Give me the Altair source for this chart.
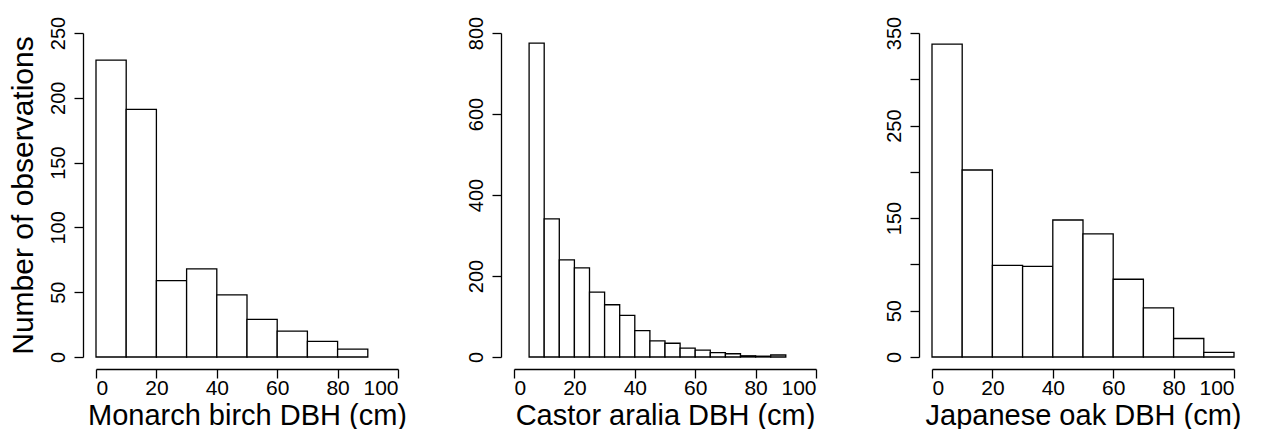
import altair as alt
import pandas as pd

# Monarch birch: 10 cm bins from 0 to 90
birch_start = [0, 10, 20, 30, 40, 50, 60, 70, 80]
birch_count = [229, 191, 59, 68, 48, 29, 20, 12, 6]

# Castor aralia: 5 cm bins from 5 to 90
aralia_start = [5, 10, 15, 20, 25, 30, 35, 40, 45, 50, 55, 60, 65, 70, 75, 80, 85]
aralia_count = [775, 341, 240, 220, 160, 129, 103, 65, 40, 34, 22, 17, 11, 8, 3, 2, 5]

# Japanese oak: 10 cm bins from 0 to 100
oak_start = [0, 10, 20, 30, 40, 50, 60, 70, 80, 90]
oak_count = [338, 202, 99, 98, 148, 133, 84, 53, 20, 5]

x_ticks = [0, 20, 40, 60, 80, 100]

FONT = "Liberation Sans"


def make_df(starts, counts, width):
    return pd.DataFrame({"start": starts,
                         "end": [s + width for s in starts],
                         "count": counts})


def panel(df, ymax, ystep, xtitle, ytitle, label_expr="datum.label"):
    yvals = list(range(0, ymax + 1, ystep))
    return alt.Chart(df).mark_bar(fill="white", stroke="black", strokeWidth=1.3).encode(
        x=alt.X("start:Q",
                scale=alt.Scale(domain=[0, 100], nice=False, zero=False),
                axis=alt.Axis(values=x_ticks, title=xtitle, offset=12,
                              labelFontSize=21, labelBaseline="alphabetic",
                              labelPadding=16,
                              titleFontSize=29, titleBaseline="alphabetic", titleY=55)),
        x2="end:Q",
        y=alt.Y("count:Q",
                scale=alt.Scale(domain=[0, ymax], nice=False),
                axis=alt.Axis(values=yvals, title=ytitle, offset=13,
                              labelAngle=270, labelAlign="center",
                              labelBaseline="alphabetic", labelPadding=9.5,
                              labelFontSize=20, labelExpr=label_expr,
                              titleFontSize=30, titleBaseline="middle", titleX=-60)),
        y2=alt.datum(0),
    ).properties(width=302, height=324)


p1 = panel(make_df(birch_start, birch_count, 10), 250, 50,
           "Monarch birch DBH (cm)", "Number of observations")
p2 = panel(make_df(aralia_start, aralia_count, 5), 800, 200,
           "Castor aralia DBH (cm)", "")
p3 = panel(make_df(oak_start, oak_count, 10), 350, 50,
           "Japanese oak DBH (cm)", "",
           label_expr="(datum.value % 100 == 0 && datum.value > 0) ? '' : datum.label")

chart = alt.hconcat(p1, p2, p3, spacing=116, bounds="flush").configure_view(
    strokeWidth=0
).configure_axis(
    grid=False, domainColor="black", tickColor="black", labelColor="black",
    titleColor="black", labelFont=FONT, titleFont=FONT, titleFontWeight="normal",
    tickSize=9, domainWidth=1.3, tickWidth=1.3
).properties(background="white", padding={"left": 8, "top": 16, "right": 5, "bottom": 0})

chart.save("out.html", embed_options={"renderer": "svg", "actions": False})
